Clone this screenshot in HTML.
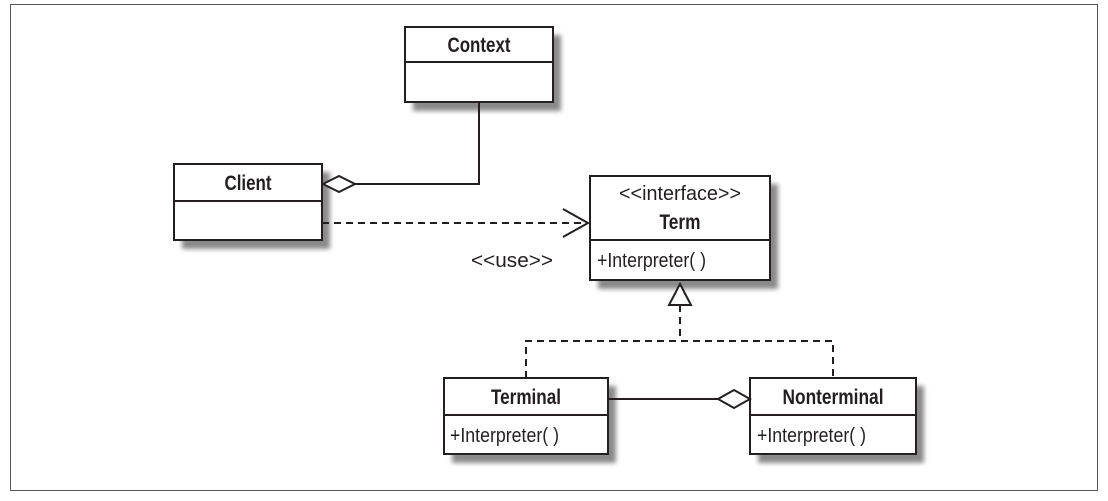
<!DOCTYPE html>
<html><head><style>
body{margin:0;background:#fff;}
svg text{font-family:"Liberation Sans Narrow","Liberation Sans",sans-serif;fill:#231f20;}
</style></head><body>
<svg width="1108" height="496" viewBox="0 0 1108 496" xmlns="http://www.w3.org/2000/svg">
<defs><filter id="b" x="-20%" y="-20%" width="140%" height="140%"><feGaussianBlur stdDeviation="2.5"/></filter></defs>
<rect x="10.5" y="4.5" width="1087" height="486" fill="#fff" stroke="#555" stroke-width="1"/>
<g fill="#8a8a8a" filter="url(#b)">
<rect x="413" y="35" width="148" height="76"/>
<rect x="182" y="172" width="148" height="77"/>
<rect x="598" y="184" width="180" height="105"/>
<rect x="452" y="386" width="164" height="77"/>
<rect x="758" y="386" width="166" height="77"/>
</g>
<g fill="#fff" stroke="#231f20" stroke-width="2">
<rect x="405" y="27" width="148" height="75"/><line x1="405" y1="62" x2="553" y2="62"/>
<rect x="174" y="164" width="148" height="76"/><line x1="174" y1="201" x2="322" y2="201"/>
<rect x="590" y="176" width="180" height="104"/><line x1="590" y1="240" x2="770" y2="240"/>
<rect x="444" y="378" width="164" height="76"/><line x1="444" y1="415" x2="608" y2="415"/>
<rect x="750" y="378" width="166" height="76"/><line x1="750" y1="415" x2="916" y2="415"/>
</g>
<g fill="none" stroke="#231f20" stroke-width="2">
<polyline points="355,184 479,184 479,102"/>
<polygon points="323,184 339,176 355,184 339,192" fill="#fff"/>
<line x1="322" y1="223" x2="586" y2="223" stroke-dasharray="7,5"/>
<polyline points="563,209 588,223 563,237"/>
<polyline points="680,305 680,341" stroke-dasharray="7,5"/>
<polyline points="526,378 526,341 833,341 833,378" stroke-dasharray="7,5"/>
<polygon points="680,284 691,305 669,305" fill="#fff"/>
<line x1="608" y1="399" x2="718" y2="399"/>
<polygon points="718,399 734,390 750,399 734,408" fill="#fff"/>
</g>
<g font-size="21" text-anchor="middle" font-weight="bold">
<text x="479" y="52" textLength="63" lengthAdjust="spacingAndGlyphs">Context</text>
<text x="248" y="190" textLength="47" lengthAdjust="spacingAndGlyphs">Client</text>
<text x="680" y="229" textLength="41" lengthAdjust="spacingAndGlyphs">Term</text>
<text x="526" y="404" textLength="70" lengthAdjust="spacingAndGlyphs">Terminal</text>
<text x="833" y="404" textLength="101" lengthAdjust="spacingAndGlyphs">Nonterminal</text>
</g>
<g font-size="20">
<text x="680" y="200" text-anchor="middle" textLength="122" lengthAdjust="spacingAndGlyphs">&lt;&lt;interface&gt;&gt;</text>
<text x="512" y="267" text-anchor="middle" textLength="82" lengthAdjust="spacingAndGlyphs">&lt;&lt;use&gt;&gt;</text>
<text x="597" y="267" textLength="109" lengthAdjust="spacingAndGlyphs">+Interpreter( )</text>
<text x="450" y="442" textLength="109" lengthAdjust="spacingAndGlyphs">+Interpreter( )</text>
<text x="757" y="442" textLength="109" lengthAdjust="spacingAndGlyphs">+Interpreter( )</text>
</g>
</svg>
</body></html>
